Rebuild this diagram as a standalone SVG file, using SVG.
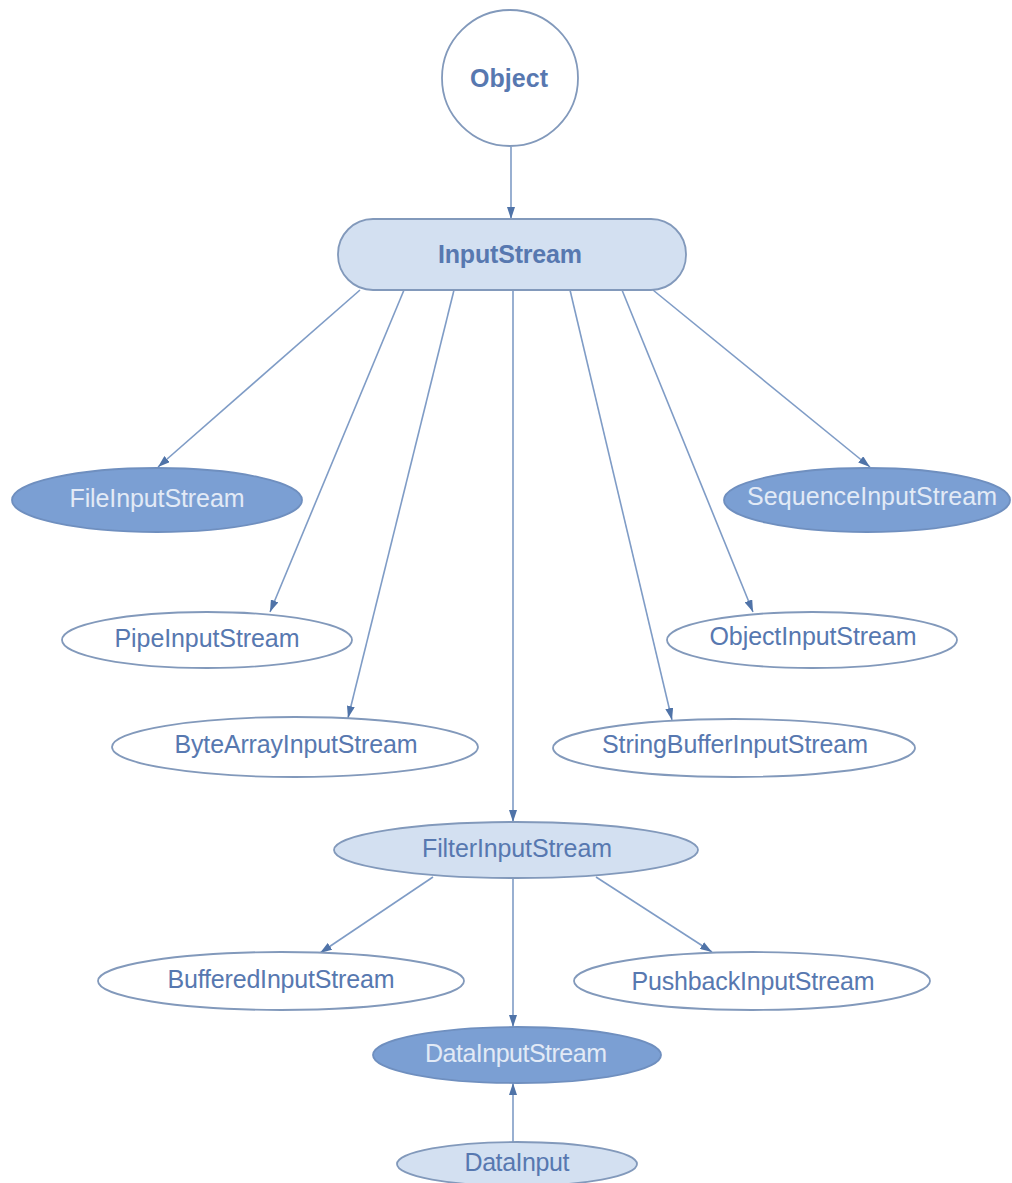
<svg xmlns="http://www.w3.org/2000/svg" width="1012" height="1183" viewBox="0 0 1012 1183">
<defs>
<marker id="arr" viewBox="0 0 12 8" refX="12" refY="4" markerWidth="12" markerHeight="8" markerUnits="userSpaceOnUse" orient="auto">
<path d="M0,0 L12,4 L0,8 Z" fill="#4f73a8"/>
</marker>
<style>
.edge{stroke:#7f9cc6;stroke-width:1.6;fill:none;marker-end:url(#arr)}
.plain{fill:#ffffff;stroke:#8299bb;stroke-width:1.8}
.light{fill:#d3e0f1;stroke:#8299bb;stroke-width:1.8}
.dark{fill:#7b9fd3;stroke:#6f8fbf;stroke-width:1.8}
text{font-family:"Liberation Sans",Arial,sans-serif;font-size:25px;text-anchor:middle}
.t{fill:#5778b0}
.tw{fill:#e2eaf6}
.b{font-weight:bold}
</style>
</defs>
<rect width="1012" height="1183" fill="#ffffff"/>
<g id="connectors">
<line class="edge" x1="511" y1="147" x2="511" y2="219"/>
<line class="edge" x1="360" y1="290" x2="158" y2="467"/>
<line class="edge" x1="404" y1="290" x2="270" y2="612"/>
<line class="edge" x1="454" y1="290" x2="348" y2="718"/>
<line class="edge" x1="513" y1="290" x2="513" y2="822"/>
<line class="edge" x1="570" y1="290" x2="672" y2="720"/>
<line class="edge" x1="622" y1="290" x2="753" y2="612"/>
<line class="edge" x1="653" y1="290" x2="870" y2="467"/>
<line class="edge" x1="433" y1="877" x2="320" y2="953"/>
<line class="edge" x1="596" y1="877" x2="712" y2="952"/>
<line class="edge" x1="513" y1="878" x2="513" y2="1027"/>
<line class="edge" x1="513" y1="1142" x2="513" y2="1083"/>
</g>
<g id="Object">
<circle class="plain" cx="510" cy="78" r="68"/>
<text class="t b" x="509" y="87" textLength="78">Object</text>
</g>
<g id="InputStream">
<rect class="light" x="338" y="219" width="348" height="71" rx="35"/>
<text class="t b" x="510" y="263" textLength="144">InputStream</text>
</g>
<g id="FileInputStream">
<ellipse class="dark" cx="157" cy="500" rx="145" ry="32"/>
<text class="tw" x="157" y="507" textLength="175">FileInputStream</text>
</g>
<g id="SequenceInputStream">
<ellipse class="dark" cx="867" cy="500" rx="143" ry="32"/>
<text class="tw" x="872" y="505" textLength="250">SequenceInputStream</text>
</g>
<g id="PipeInputStream">
<ellipse class="plain" cx="207" cy="640" rx="145" ry="28"/>
<text class="t" x="207" y="647" textLength="185">PipeInputStream</text>
</g>
<g id="ObjectInputStream">
<ellipse class="plain" cx="812" cy="640" rx="145" ry="28"/>
<text class="t" x="813" y="645" textLength="207">ObjectInputStream</text>
</g>
<g id="ByteArrayInputStream">
<ellipse class="plain" cx="295" cy="747" rx="183" ry="30"/>
<text class="t" x="296" y="753" textLength="243">ByteArrayInputStream</text>
</g>
<g id="StringBufferInputStream">
<ellipse class="plain" cx="734" cy="748" rx="181" ry="29"/>
<text class="t" x="735" y="753" textLength="266">StringBufferInputStream</text>
</g>
<g id="FilterInputStream">
<ellipse class="light" cx="516" cy="850" rx="182" ry="28"/>
<text class="t" x="517" y="857" textLength="190">FilterInputStream</text>
</g>
<g id="BufferedInputStream">
<ellipse class="plain" cx="281" cy="981" rx="183" ry="29"/>
<text class="t" x="281" y="988" textLength="227">BufferedInputStream</text>
</g>
<g id="PushbackInputStream">
<ellipse class="plain" cx="752" cy="981" rx="178" ry="29"/>
<text class="t" x="753" y="990" textLength="243">PushbackInputStream</text>
</g>
<g id="DataInputStream">
<ellipse class="dark" cx="517" cy="1055" rx="144" ry="28"/>
<text class="tw" x="516" y="1062" textLength="182">DataInputStream</text>
</g>
<g id="DataInput">
<ellipse class="light" cx="517" cy="1164" rx="120" ry="22"/>
<text class="t" x="517" y="1171" textLength="105">DataInput</text>
</g>
</svg>
